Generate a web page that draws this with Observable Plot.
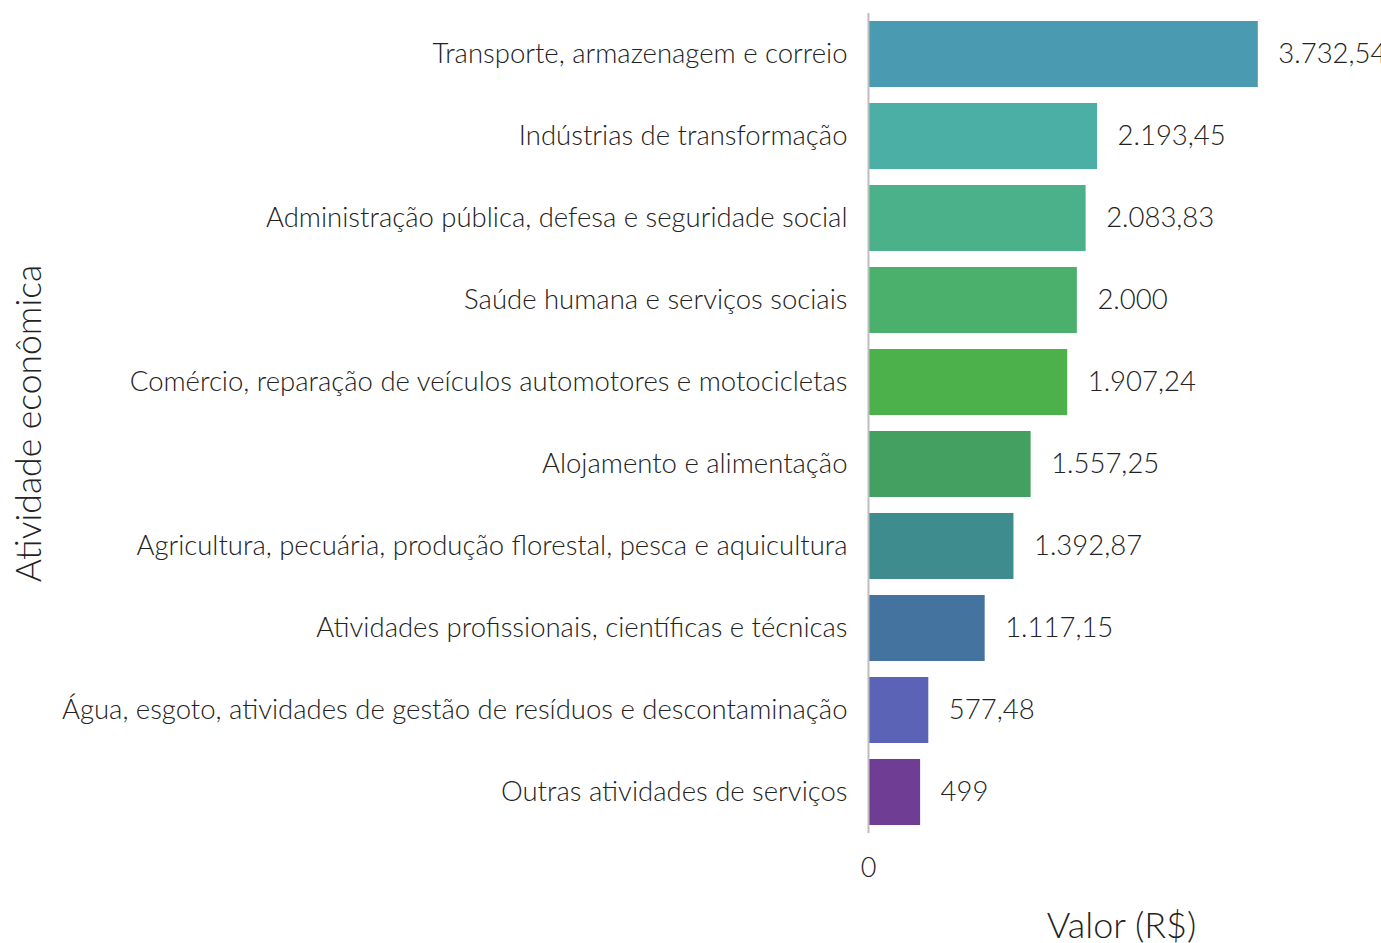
<!DOCTYPE html>
<html>
<head>
<meta charset="utf-8">
<script src="https://cdn.jsdelivr.net/npm/d3@7"></script>
<script src="https://cdn.jsdelivr.net/npm/@observablehq/plot@0.6"></script>
<style>
  html, body { margin: 0; padding: 0; background: #fff; overflow: hidden; }
  #chart svg { font-family: Lato, "Noto Sans", sans-serif; font-weight: 300; }
</style>
</head>
<body>
<div id="chart"></div>
<script>
const categories = [
  "Transporte, armazenagem e correio",
  "Indústrias de transformação",
  "Administração pública, defesa e seguridade social",
  "Saúde humana e serviços sociais",
  "Comércio, reparação de veículos automotores e motocicletas",
  "Alojamento e alimentação",
  "Agricultura, pecuária, produção florestal, pesca e aquicultura",
  "Atividades profissionais, científicas e técnicas",
  "Água, esgoto, atividades de gestão de resíduos e descontaminação",
  "Outras atividades de serviços"
];
const values = [3732.54, 2193.45, 2083.83, 2000, 1907.24, 1557.25, 1392.87, 1117.15, 577.48, 499];
const palette = ["#4A9BB1", "#4BAFA6", "#4BB18A", "#4BB06B", "#4CB04B", "#44A061", "#3F8C8F", "#44739F", "#5B63B6", "#6F3D94"];
const xTicks = [0];
const xLabel = "Valor (R$)";
const yLabel = "Atividade econômica";

const data = categories.map((c, i) => ({category: c, value: values[i]}));
const fmt = d3.formatLocale({decimal: ",", thousands: ".", grouping: [3], currency: ["R$", ""]}).format(",.2~f");

const chart = Plot.plot({
  width: 1381,
  height: 943,
  marginLeft: 868,
  marginRight: 7,
  marginTop: 13,
  marginBottom: 110,
  style: {fontFamily: "Lato, 'Noto Sans', sans-serif", fontWeight: 300, background: "#fff", overflow: "visible"},
  x: {domain: [0, 4845], axis: null},
  y: {domain: categories, paddingInner: 0.2, paddingOuter: 0.1, axis: null},
  color: {domain: categories, range: palette},
  marks: [
    Plot.barX(data, {y: "category", x: "value", fill: "category"}),
    Plot.ruleX([0], {stroke: "#bdbdbd", strokeWidth: 2}),
    Plot.axisY({tickSize: 0, tickPadding: 21, fontSize: 27.5, fill: "#222", label: null}),
    Plot.axisX({ticks: xTicks, tickSize: 0, tickPadding: 24, fontSize: 27, fill: "#222", label: null, tickFormat: fmt}),
    Plot.text(data, {y: "category", x: "value", text: d => fmt(d.value), textAnchor: "start", dx: 20, fontSize: 27.5, fill: "#222"}),
    Plot.text([xLabel], {frameAnchor: "bottom", textAnchor: "middle", lineAnchor: "middle", dy: 93, fontSize: 36, fill: "#222"}),
    Plot.text([yLabel], {frameAnchor: "left", textAnchor: "middle", lineAnchor: "middle", rotate: -90, dx: -839, fontSize: 35.5, fill: "#222"})
  ]
});
document.getElementById("chart").appendChild(chart);
</script>
</body>
</html>
